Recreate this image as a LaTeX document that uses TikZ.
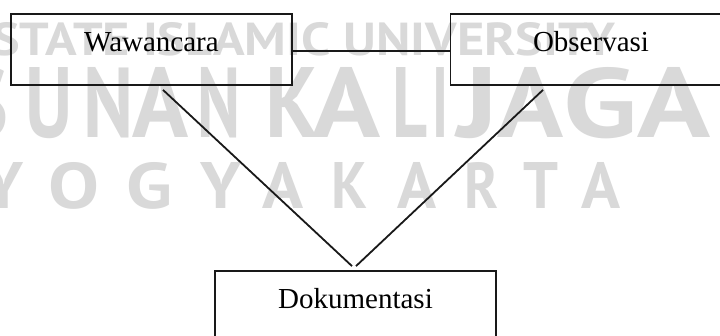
\documentclass[tikz,border=0pt]{standalone}
\usepackage{fontspec}
\usepackage{graphicx}
\setmainfont{Liberation Serif}
\newfontfamily\wmfont{PT Sans}
\usetikzlibrary{calc}

\definecolor{wmgray}{gray}{0.85}
\definecolor{inkline}{gray}{0.1}

\tikzset{
  box/.style={draw=inkline, line width=1.8pt, minimum width=281pt, minimum height=71pt, inner sep=0pt},
  lbl/.style={anchor=base, inner sep=0pt, font=\fontsize{29}{34}\selectfont},
  link/.style={draw=inkline, line width=1.8pt},
  wm/.style={anchor=base west, inner sep=0pt, text=wmgray}
}

\begin{document}
\begin{tikzpicture}[x=1pt, y=-1pt]
  \clip (0,0) rectangle (720,335);
  \fill[white] (0,0) rectangle (720,335);

  % background lettering
  \node[wm] (wm-top) at (-8,55) {\resizebox{623pt}{33pt}{\wmfont\bfseries STATE ISLAMIC UNIVERSITY}};
  \foreach \l/\r/\c [count=\i] in {-38/8/S, 25/72/U, 83/133/N, 132/188/A, 197/240/N,
      265/318/K, 312/380/A, 392/427/L, 432/448/I, 457/498/J, 497/563/A, 563/637/G, 637/710/A} {
    \pgfmathsetmacro\w{\r-\l}
    \node[wm] (wm-mid-\i) at (\l,137) {\resizebox{\w pt}{70pt}{\wmfont\bfseries \c}};
  }
  \foreach \l/\r/\c [count=\i] in {-17/23/Y, 48/99/O, 126/172/G, 200/241/Y, 262/303/A,
      331/367/K, 397/436/A, 464/498/R, 523/558/T, 581/620/A} {
    \pgfmathsetmacro\w{\r-\l}
    \node[wm] (wm-low-\i) at (\l,208) {\resizebox{\w pt}{46pt}{\wmfont\bfseries \c}};
  }

  % boxes
  \node[box] (W) at (151.5,49.5) {};
  \node[box] (O) at (591,49.5) {};
  \node[box] (D) at (355.5,306.5) {};

  \node[lbl] (Wt) at (151.5,51) {Wawancara};
  \node[lbl] (Ot) at (591,51) {Observasi};
  \node[lbl] (Dt) at (355.5,308) {Dokumentasi};

  % connectors
  \draw[link] ($(W.east)+(0,1.5)$) -- ($(O.west)+(0,1.5)$);
  \draw[link] ($(W.south)+(11.5,4)$) -- ($(D.north)+(-3.5,-4)$);
  \draw[link] ($(O.south)+(-48,4)$) -- ($(D.north)+(0.5,-4)$);
\end{tikzpicture}
\end{document}
